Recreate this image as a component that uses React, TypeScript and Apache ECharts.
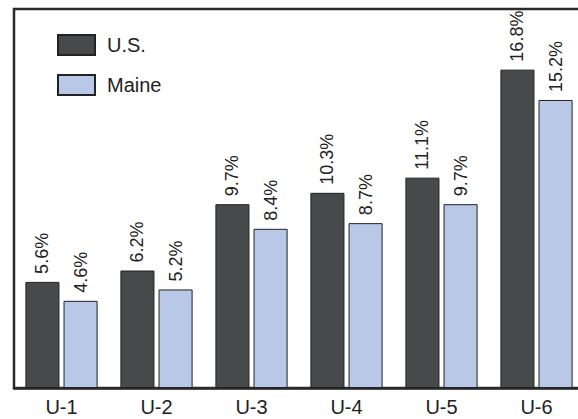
import React, { useEffect, useRef } from "react";
import * as echarts from "echarts";

const categories = ["U-1", "U-2", "U-3", "U-4", "U-5", "U-6"];
const usValues = [5.6, 6.2, 9.7, 10.3, 11.1, 16.8];
const maineValues = [4.6, 5.2, 8.4, 8.7, 9.7, 15.2];
const seriesNames = ["U.S.", "Maine"];

const FONT = "'Liberation Sans Narrow', 'Liberation Sans', Arial, sans-serif";

export default function App() {
  const ref = useRef<HTMLDivElement>(null);
  useEffect(() => {
    if (!ref.current) return;
    const chart = echarts.init(ref.current, null, { renderer: "svg" });
    const label = {
      show: true,
      position: "top",
      rotate: 90,
      align: "left",
      verticalAlign: "middle",
      distance: 8,
      color: "#222",
      fontFamily: FONT,
      fontSize: 18,
      formatter: (p: any) => Number(p.value).toFixed(1) + "%",
    };
    chart.setOption({
      animation: false,
      backgroundColor: "#fff",
      legend: {
        orient: "vertical",
        left: 52,
        top: 29,
        itemWidth: 37,
        itemHeight: 20,
        itemGap: 18,
        icon: "rect",
        textStyle: { fontFamily: FONT, fontSize: 20, color: "#222", padding: [0, 0, 0, 7] },
        data: seriesNames,
      },
      grid: {
        left: 14,
        top: 9,
        bottom: 31,
        right: 1,
        show: true,
        borderColor: "#2a2a2a",
        borderWidth: 2.5,
        backgroundColor: "transparent",
      },
      xAxis: {
        type: "category",
        data: categories,
        axisLine: { show: true, lineStyle: { color: "#2a2a2a", width: 2.5 } },
        axisTick: { show: false },
        axisLabel: { fontFamily: FONT, fontSize: 20, color: "#222", margin: 9 },
      },
      yAxis: {
        type: "value",
        min: 0,
        max: 20,
        show: false,
        splitLine: { show: false },
      },
      series: [
        {
          name: seriesNames[0],
          type: "bar",
          data: usValues,
          barGap: "12%",
          barCategoryGap: "24%",
          itemStyle: { color: "#48494b", borderColor: "#222", borderWidth: 1 },
          label,
        },
        {
          name: seriesNames[1],
          type: "bar",
          data: maineValues,
          itemStyle: { color: "#b8c8e6", borderColor: "#222", borderWidth: 1 },
          label,
        },
      ],
    });
    return () => chart.dispose();
  }, []);
  return (
    <div style={{ position: "absolute", left: 0, top: 0, width: 578, height: 419, overflow: "hidden" }}>
      <div ref={ref} style={{ width: 585, height: 419 }} />
    </div>
  );
}
